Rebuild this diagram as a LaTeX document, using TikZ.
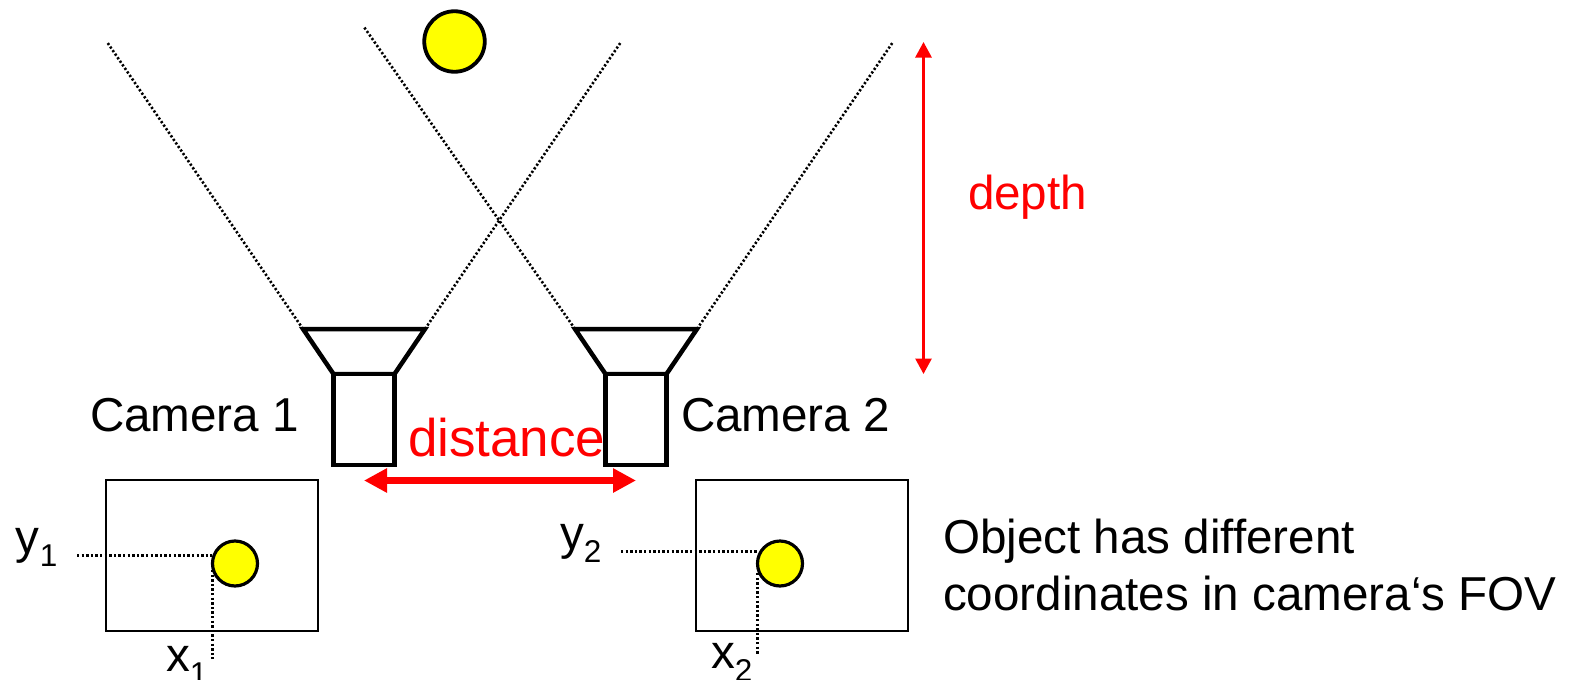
\documentclass[tikz,border=0pt]{standalone}
\usepackage{fontspec}
\setmainfont{Liberation Sans}
\usetikzlibrary{arrows.meta}
\definecolor{objyellow}{RGB}{255,255,0}
\definecolor{markred}{RGB}{255,0,0}
\newcommand{\subnum}[1]{\raisebox{-13pt}{\fontsize{31.5}{31.5}\selectfont #1}}
\tikzset{
  x=1pt,y=-1pt,
  lab/.style={inner sep=0pt,outer sep=0pt,anchor=base west,font=\fontsize{47.6}{55}\selectfont,text=black},
  redlab/.style={lab,text=markred},
  sight/.style={line width=2.6pt,dash pattern=on 2.2pt off 2.1pt},
  guide/.style={line width=2.6pt,dash pattern=on 2.4pt off 2.2pt},
  camerabody/.style={draw=black,line width=4.5pt,fill=white,line join=miter},
  screenbox/.style={draw=black,line width=2.7pt,fill=white},
  ball/.style={draw=black,fill=objyellow,circle,inner sep=0pt,outer sep=0pt},
  spanarrow/.style={draw=markred,line width=7pt,{Triangle[length=23pt,width=23pt]}-{Triangle[length=23pt,width=23pt]}},
  deptharrow/.style={draw=markred,line width=2.8pt,{Triangle[length=15.5pt,width=16pt]}-{Triangle[length=15.5pt,width=16pt]}},
}
\begin{document}
\begin{tikzpicture}
\useasboundingbox (0,0) rectangle (1577,680);
% sight lines
\coordinate (c1tl) at (303,329);
\coordinate (c1tr) at (425,329);
\coordinate (c2tl) at (575,329);
\coordinate (c2tr) at (697,329);
\coordinate (s1a) at (107,42);
\coordinate (s1b) at (621,42);
\coordinate (s2a) at (364,27);
\coordinate (s2b) at (893,42);
\draw[sight] (c1tl) -- (s1a);
\draw[sight] (c1tr) -- (s1b);
\draw[sight] (c2tl) -- (s2a);
\draw[sight] (c2tr) -- (s2b);
% object
\node[ball,line width=3.8pt,minimum size=60.5pt] (obj) at (454.5,41.5) {};
% cameras
\draw[camerabody] (c1tl) -- (c1tr) -- (394.5,374) -- (333.5,374) -- cycle;
\draw[camerabody] (c2tl) -- (c2tr) -- (666.5,374) -- (605.5,374) -- cycle;
\node[camerabody,draw,minimum width=61pt,minimum height=91pt,inner sep=0pt,outer sep=0pt] (body1) at (364,419.5) {};
\node[camerabody,draw,minimum width=61pt,minimum height=91pt,inner sep=0pt,outer sep=0pt] (body2) at (636,419.5) {};
% labels
\node[lab] (cam1) at (90,431) {Camera 1};
\node[lab] (cam2) at (681,431) {Camera 2};
\node[redlab,font=\fontsize{53}{60}\selectfont] (dist) at (408,456) {distance};
\node[redlab] (dep) at (968,209) {depth};
% arrows
\coordinate (dl) at (364,480.5);
\coordinate (dr) at (636,480.5);
\draw[spanarrow] (dl) -- (dr);
\coordinate (dt) at (923.5,42);
\coordinate (db) at (923.5,374);
\draw[deptharrow] (dt) -- (db);
% screens
\node[screenbox,minimum width=212pt,minimum height=151pt,inner sep=0pt,outer sep=0pt] (scr1) at (212,555.5) {};
\node[screenbox,minimum width=212pt,minimum height=151pt,inner sep=0pt,outer sep=0pt] (scr2) at (802,555.5) {};
% guides
\coordinate (y1s) at (77,555.5);
\coordinate (y1e) at (212,555.5);
\coordinate (x1s) at (212.5,570);
\coordinate (x1e) at (212.5,659);
\coordinate (y2s) at (621,551.5);
\coordinate (y2e) at (757,551.5);
\coordinate (x2s) at (757.5,573);
\coordinate (x2e) at (757.5,655);
\draw[guide] (y1s) -- (y1e);
\draw[guide] (x1s) -- (x1e);
\draw[guide] (y2s) -- (y2e);
\draw[guide] (x2s) -- (x2e);
\node[ball,line width=3.2pt,minimum size=45pt] (b1) at (235,563.5) {};
\node[ball,line width=3.2pt,minimum size=45pt] (b2) at (780,563.5) {};
\node[lab] (y1) at (16,553) {y\subnum{1}};
\node[lab] (y2) at (560,549) {y\subnum{2}};
\node[lab] (x1) at (166,671) {x\subnum{1}};
\node[lab] (x2) at (711,668) {x\subnum{2}};
\node[lab] (t1) at (943,553) {Object has different};
\node[lab] (t2) at (943,610) {coordinates in camera‘s FOV};
\end{tikzpicture}
\end{document}
